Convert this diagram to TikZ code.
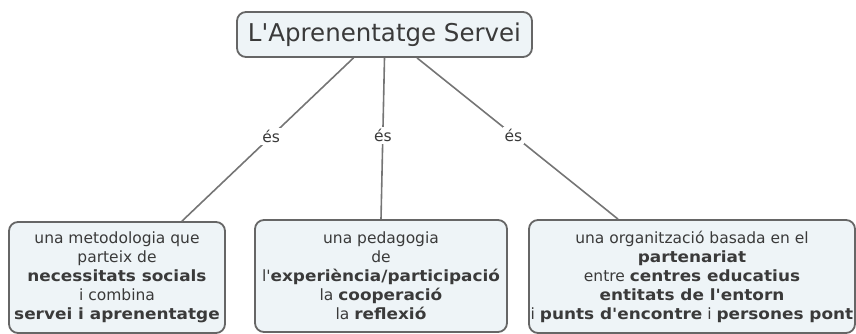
\documentclass[tikz,border=0pt]{standalone}
\usepackage{fontspec}
\newfontfamily\mapfont{DejaVu Sans}[BoldFeatures={FakeStretch=1.09}]
\definecolor{boxfill}{HTML}{EEF4F7}
\definecolor{boxline}{HTML}{666666}
\definecolor{txt}{HTML}{3A3A3A}
\tikzset{
	concept/.style={draw=boxline, line width=1.8pt, fill=boxfill, rounded corners=9pt,
		align=center, text=txt, inner sep=0pt, font=\mapfont\fontsize{15.5}{19}\selectfont},
	link/.style={draw=boxline!90, line width=1.6pt},
	linklabel/.style={fill=white, text=txt, inner sep=2pt, font=\mapfont\fontsize{15.5}{18}\selectfont}
}
\begin{document}
\begin{tikzpicture}[x=1pt,y=-1pt]
		\useasboundingbox (0,0) rectangle (856,334);
		
		\node[concept, minimum width=295, minimum height=45,
			font=\mapfont\fontsize{24.5}{28}\selectfont] (top) at (384.5,34.5) {L'Aprenentatge Servei};
		
		\node[concept, minimum width=216, minimum height=111] (left) at (117,277.5)
			{una metodologia que\\ parteix de\\ \textbf{necessitats socials}\\ i combina\\ \textbf{servei i aprenentatge}};
		\node[concept, minimum width=252, minimum height=112] (mid) at (381,276)
			{una pedagogia\\ de\\ l'\textbf{experiència/participació}\\ la \textbf{cooperació}\\ la \textbf{reflexió}};
		\node[concept, minimum width=326, minimum height=113] (right) at (692,276.5)
			{una organització basada en el\\ \textbf{partenariat}\\ entre \textbf{centres educatius}\\ \textbf{entitats de l'entorn}\\ i \textbf{punts d'encontre} i \textbf{persones pont}};
		
		\draw[link] ([xshift=-31]top.south) -- node[linklabel, pos=.48] {és} ([xshift=65]left.north);
		\draw[link] (top.south) -- node[linklabel, pos=.48] {és} (mid.north);
		\draw[link] ([xshift=32.5]top.south) -- node[linklabel, pos=.48] {és} ([xshift=-74]right.north);
		\end{tikzpicture}
\end{document}
